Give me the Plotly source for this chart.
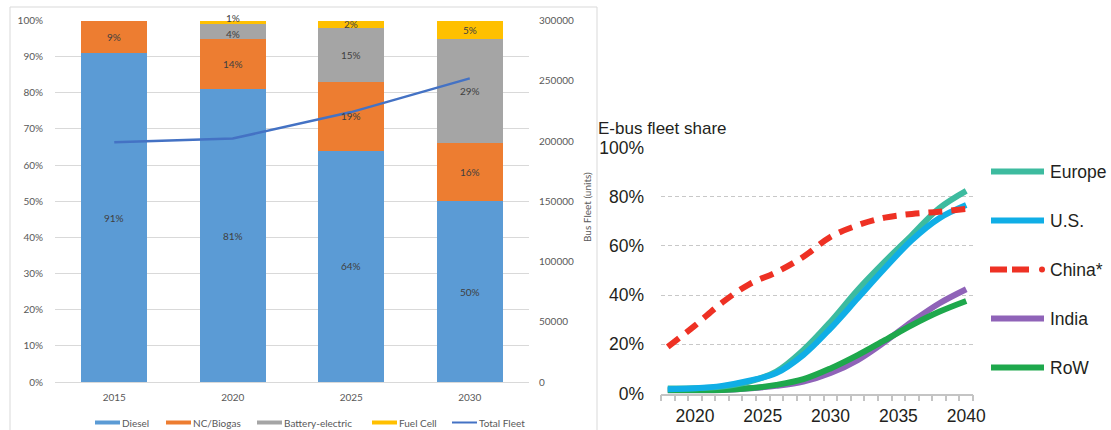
import numpy as np
import plotly.graph_objects as go

# ---- Left panel: bus fleet composition by powertrain ----
fleet_years = ["2015", "2020", "2025", "2030"]
diesel = [91, 81, 64, 50]
nc_biogas = [9, 14, 19, 16]
battery_electric = [0, 4, 15, 29]
fuel_cell = [0, 1, 2, 5]
total_fleet = [199000, 202000, 224000, 252000]

stack_names = ["Diesel", "NC/Biogas", "Battery-electric", "Fuel Cell"]
stack_values = [diesel, nc_biogas, battery_electric, fuel_cell]
stack_colors = ["#5b9bd5", "#ed7d31", "#a5a5a5", "#ffc000"]
fleet_color = "#4472c4"

# ---- Right panel: e-bus fleet share projections ----
share_years = [2018, 2020, 2022, 2024, 2026, 2028, 2030, 2032, 2034, 2036, 2038, 2040]
europe = [2.0, 2.1, 2.8, 4.8, 8.9, 17.7, 29.2, 42.1, 53.6, 64.4, 75.3, 82.4]
us = [1.7, 2.1, 3.1, 5.2, 8.3, 15.7, 26.5, 38.7, 50.9, 62.4, 71.2, 76.6]
china = [19.0, 27.6, 36.9, 44.4, 49.3, 55.6, 63.7, 68.4, 71.5, 73.0, 73.9, 75.0]
india = [1.3, 1.3, 1.4, 2.1, 3.1, 4.8, 8.3, 13.6, 21.0, 29.2, 36.6, 42.4]
row = [1.3, 1.3, 1.4, 2.1, 3.5, 5.8, 10.2, 15.6, 21.7, 27.8, 33.2, 37.6]

share_names = ["Europe", "U.S.", "China*", "India", "RoW"]
share_values = [europe, us, china, india, row]
share_colors = ["#3dbb9f", "#10aee6", "#ee3124", "#8f63b8", "#1ea84c"]
share_dash = ["solid", "solid", "14px,9px", "solid", "solid"]
share_order_draw = [3, 4, 0, 1, 2]  # India/RoW underneath, China on top

W, H = 1111, 430
def px_x(v):
    return v / W
def px_y(v):
    return 1 - v / H

LEFT_FONT = "Lato"
RIGHT_FONT = "Liberation Sans"
grey_txt = "#595959"
dark_txt = "#231f20"

fig = go.Figure()

for name, vals, color in zip(stack_names, stack_values, stack_colors):
    fig.add_trace(go.Bar(
        x=fleet_years, y=vals, name=name, marker=dict(color=color, line=dict(width=0)),
        xaxis="x", yaxis="y", showlegend=False, hoverinfo="x+y+name",
    ))

fig.add_trace(go.Scatter(
    x=fleet_years, y=total_fleet, name="Total Fleet", mode="lines",
    line=dict(color=fleet_color, width=2.5), xaxis="x", yaxis="y2", showlegend=False,
))

for i in share_order_draw:
    fig.add_trace(go.Scatter(
        x=share_years, y=[v / 100 for v in share_values[i]], name=share_names[i],
        mode="lines", line=dict(color=share_colors[i], width=6, shape="spline",
                                dash=share_dash[i]),
        xaxis="x2", yaxis="y3", showlegend=False,
    ))

annotations = []

# segment value labels, centred in each stacked segment (x given as category index);
# labels of very thin segments are nudged apart from their neighbour below
stack_arr = np.array(stack_values, dtype=float)
tops = np.cumsum(stack_arr, axis=0)
n_series = stack_arr.shape[0]
for s in range(n_series):
    for c in range(len(fleet_years)):
        v = stack_arr[s, c]
        if v <= 0:
            continue
        shift = 0
        if v < 2:
            shift = 4
        elif s + 1 < n_series and 0 < stack_arr[s + 1, c] < 2:
            shift = -3
        annotations.append(dict(
            x=c, y=tops[s, c] - v / 2, xref="x", yref="y", text=f"{int(v)}%",
            yshift=shift, showarrow=False,
            font=dict(family=LEFT_FONT, size=10, color="#404040"),
        ))

# secondary axis title
annotations.append(dict(
    x=px_x(587), y=px_y(207), xref="paper", yref="paper", text="Bus Fleet (units)",
    textangle=-90, showarrow=False, font=dict(family=LEFT_FONT, size=10, color=grey_txt),
))

shapes = []

# left legend
left_leg_x = [95, 166, 257, 372, 452]
leg_y = 422.5
leg_items = list(zip(stack_names, stack_colors, [4] * 4)) + [("Total Fleet", fleet_color, 2)]
for (name, color, lw), x0 in zip(leg_items, left_leg_x):
    shapes.append(dict(type="line", xref="paper", yref="paper",
                       x0=px_x(x0), x1=px_x(x0 + 25), y0=px_y(leg_y), y1=px_y(leg_y),
                       line=dict(color=color, width=lw)))
    annotations.append(dict(x=px_x(x0 + 25), y=px_y(leg_y), xref="paper", yref="paper",
                            text=name, showarrow=False, xanchor="left", yanchor="middle",
                            font=dict(family=LEFT_FONT, size=10, color=grey_txt)))

# left panel frame
shapes.append(dict(type="rect", xref="paper", yref="paper",
                   x0=px_x(10), x1=px_x(597), y0=px_y(445), y1=px_y(7),
                   line=dict(color="#d9d9d9", width=1), fillcolor="rgba(0,0,0,0)", layer="below"))

# right legend
right_leg_y0, right_leg_step = 171.5, 49
for k, (name, color) in enumerate(zip(share_names, share_colors)):
    y = right_leg_y0 + k * right_leg_step
    if name == "China*":
        shapes.append(dict(type="line", xref="paper", yref="paper",
                           x0=px_x(990), x1=px_x(1033), y0=px_y(y), y1=px_y(y),
                           line=dict(color=color, width=6, dash="17px,5px")))
        shapes.append(dict(type="circle", xref="paper", yref="paper",
                           x0=px_x(1039), x1=px_x(1045), y0=px_y(y + 3), y1=px_y(y - 3),
                           line=dict(width=0), fillcolor=color))
    else:
        shapes.append(dict(type="line", xref="paper", yref="paper",
                           x0=px_x(991), x1=px_x(1044), y0=px_y(y), y1=px_y(y),
                           line=dict(color=color, width=6)))
    annotations.append(dict(x=px_x(1048), y=px_y(y), xref="paper", yref="paper",
                            text=name, showarrow=False, xanchor="left", yanchor="middle",
                            font=dict(family=RIGHT_FONT, size=17.5, color=dark_txt)))

annotations.append(dict(
    x=px_x(596), y=px_y(128), xref="paper", yref="paper", text="E-bus fleet share",
    showarrow=False, xanchor="left", yanchor="middle",
    font=dict(family=RIGHT_FONT, size=17, color=dark_txt),
))

fig.update_layout(
    width=W, height=H, margin=dict(l=0, r=0, t=0, b=0, pad=0, autoexpand=False),
    paper_bgcolor="white", plot_bgcolor="rgba(0,0,0,0)",
    barmode="stack", bargap=0.443, showlegend=False,
    xaxis=dict(domain=[px_x(55), px_x(529)], anchor="y", type="category",
               range=[-0.5, len(fleet_years) - 0.5], automargin=False,
               showgrid=False, showline=False, ticks="", ticklabelstandoff=8,
               tickfont=dict(family=LEFT_FONT, size=10, color=grey_txt)),
    yaxis=dict(domain=[px_y(382), px_y(20.5)], anchor="x", range=[0, 100], dtick=10,
               ticksuffix="%", showgrid=True, gridcolor="#d9d9d9", gridwidth=1,
               zeroline=True, zerolinecolor="#d9d9d9", zerolinewidth=1, automargin=False,
               showline=False, ticks="", ticklabelstandoff=11,
               tickfont=dict(family=LEFT_FONT, size=10, color=grey_txt)),
    yaxis2=dict(overlaying="y", side="right", anchor="x", range=[0, 300000], dtick=50000,
                tickformat="d", showgrid=False, zeroline=False, showline=False, ticks="",
                ticklabelstandoff=9, automargin=False,
                tickfont=dict(family=LEFT_FONT, size=10, color=grey_txt)),
    xaxis2=dict(domain=[px_x(661), px_x(973)], anchor="y3", range=[2017.5, 2040.5],
                tickvals=[2020, 2025, 2030, 2035, 2040], ticks="", showgrid=False,
                showline=True, linecolor="#c4c4c4", linewidth=1.5, zeroline=False,
                minor=dict(tick0=2017.5, dtick=1, ticks="outside", ticklen=6,
                           tickcolor="#c4c4c4", tickwidth=1.5, showgrid=False),
                ticklabelstandoff=6, automargin=False,
                tickfont=dict(family=RIGHT_FONT, size=17.5, color=dark_txt)),
    yaxis3=dict(domain=[px_y(393.5), px_y(147.5)], anchor="x2", range=[0, 1], dtick=0.2,
                tickformat=".0%", showgrid=True, gridcolor="#c8c8c8", gridwidth=1.3,
                griddash="4px,3px", zeroline=False, showline=False, ticks="",
                ticklabelstandoff=16, automargin=False,
                tickfont=dict(family=RIGHT_FONT, size=17.5, color=dark_txt)),
    annotations=annotations, shapes=shapes,
)

# page without body margin so the figure sits flush in the window
fig.write_html(
    "out.html",
    post_script="document.body.style.margin='0';document.body.style.overflow='hidden';",
)
